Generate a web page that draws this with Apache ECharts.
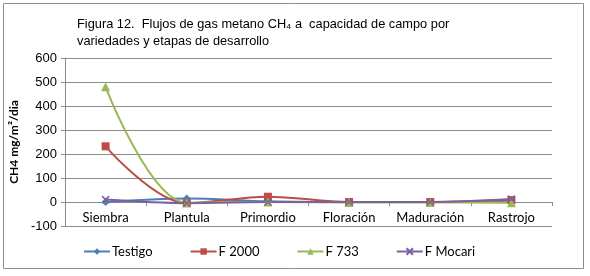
<!DOCTYPE html>
<html>
<head>
<meta charset="utf-8">
<script src="https://cdn.jsdelivr.net/npm/echarts@6/dist/echarts.min.js"></script>
<style>
  html, body { margin: 0; padding: 0; background: #fff; }
  #chart { width: 590px; height: 276px; }
</style>
</head>
<body>
<div id="chart"></div>
<script>
  // etapas de desarrollo
  const categories = ["Siembra", "Plantula", "Primordio", "Floración", "Maduración", "Rastrojo"];
  const testigo = [0, 15, 3, 0, 0, 5];
  const f2000 = [232, -5, 22, 0, 0, 8];
  const f733 = [480, -3, 0, -2, -2, -3];
  const fMocari = [10, -5, 0, 0, 0, 12];
  const yTicks = { min: -100, max: 600, interval: 100 };

  const xMark = "path://M0,0 L10,10 M10,0 L0,10";
  const fontCat = "Lato, sans-serif";
  const fontArial = "Liberation Sans, Arial, sans-serif";

  const chart = echarts.init(document.getElementById("chart"));

  function serie(name, data, color, symbol, size) {
    return {
      name: name,
      type: "line",
      data: data,
      smooth: 0.35,
      symbol: symbol,
      symbolSize: size,
      showSymbol: true,
      lineStyle: { color: color, width: 2 },
      itemStyle: { color: color, borderColor: color, borderWidth: symbol === xMark ? 1.5 : 0 },
      emphasis: { disabled: true }
    };
  }

  const option = {
    animation: false,
    graphic: [{
      type: "rect",
      shape: { x: 3.5, y: 3.5, width: 580, height: 265 },
      style: { fill: "none", stroke: "#8c8c8c", lineWidth: 1 }
    }],
    title: {
      text: "Figura 12.  Flujos de gas metano CH₄ a  capacidad de campo por\nvariedades y etapas de desarrollo",
      left: 72,
      top: 11,
      textStyle: {
        fontFamily: fontArial,
        fontSize: 12.8,
        fontWeight: "normal",
        color: "#000",
        lineHeight: 17
      }
    },
    legend: {
      top: 240,
      left: 78,
      itemGap: 37,
      itemWidth: 26,
      itemHeight: 8,
      textStyle: { fontFamily: fontCat, fontSize: 13, color: "#000", padding: [0, 0, 0, -3] },
      data: ["Testigo", "F 2000", "F 733", "F Mocari"]
    },
    grid: {
      left: 65,
      right: 38,
      top: 58,
      bottom: 50,
      containLabel: false
    },
    xAxis: {
      type: "category",
      data: categories,
      boundaryGap: true,
      axisLine: { onZero: true, lineStyle: { color: "#8c8c8c" } },
      axisTick: { show: true, alignWithLabel: false, length: 4, lineStyle: { color: "#8c8c8c" } },
      axisLabel: { color: "#000", fontFamily: fontCat, fontSize: 13, margin: -15, interval: 0 },
      splitLine: { show: false }
    },
    yAxis: {
      type: "value",
      min: yTicks.min,
      max: yTicks.max,
      interval: yTicks.interval,
      name: "CH4 mg/m²/dia",
      nameLocation: "middle",
      nameRotate: 90,
      nameGap: 41,
      nameTextStyle: { fontFamily: fontCat, fontSize: 12, fontWeight: "bold", color: "#000" },
      axisLine: { show: true, lineStyle: { color: "#8c8c8c" } },
      axisTick: { show: true, length: 4, lineStyle: { color: "#8c8c8c" } },
      axisLabel: { color: "#000", fontFamily: fontArial, fontSize: 13, margin: 8 },
      splitLine: { show: true, lineStyle: { color: "#8c8c8c", width: 1 } }
    },
    series: [
      serie("Testigo", testigo, "#4a7ebb", "diamond", 8),
      serie("F 2000", f2000, "#be4b48", "rect", 8),
      serie("F 733", f733, "#98b954", "triangle", 9),
      serie("F Mocari", fMocari, "#7d60a0", xMark, 7)
    ]
  };

  chart.setOption(option);
</script>
</body>
</html>
